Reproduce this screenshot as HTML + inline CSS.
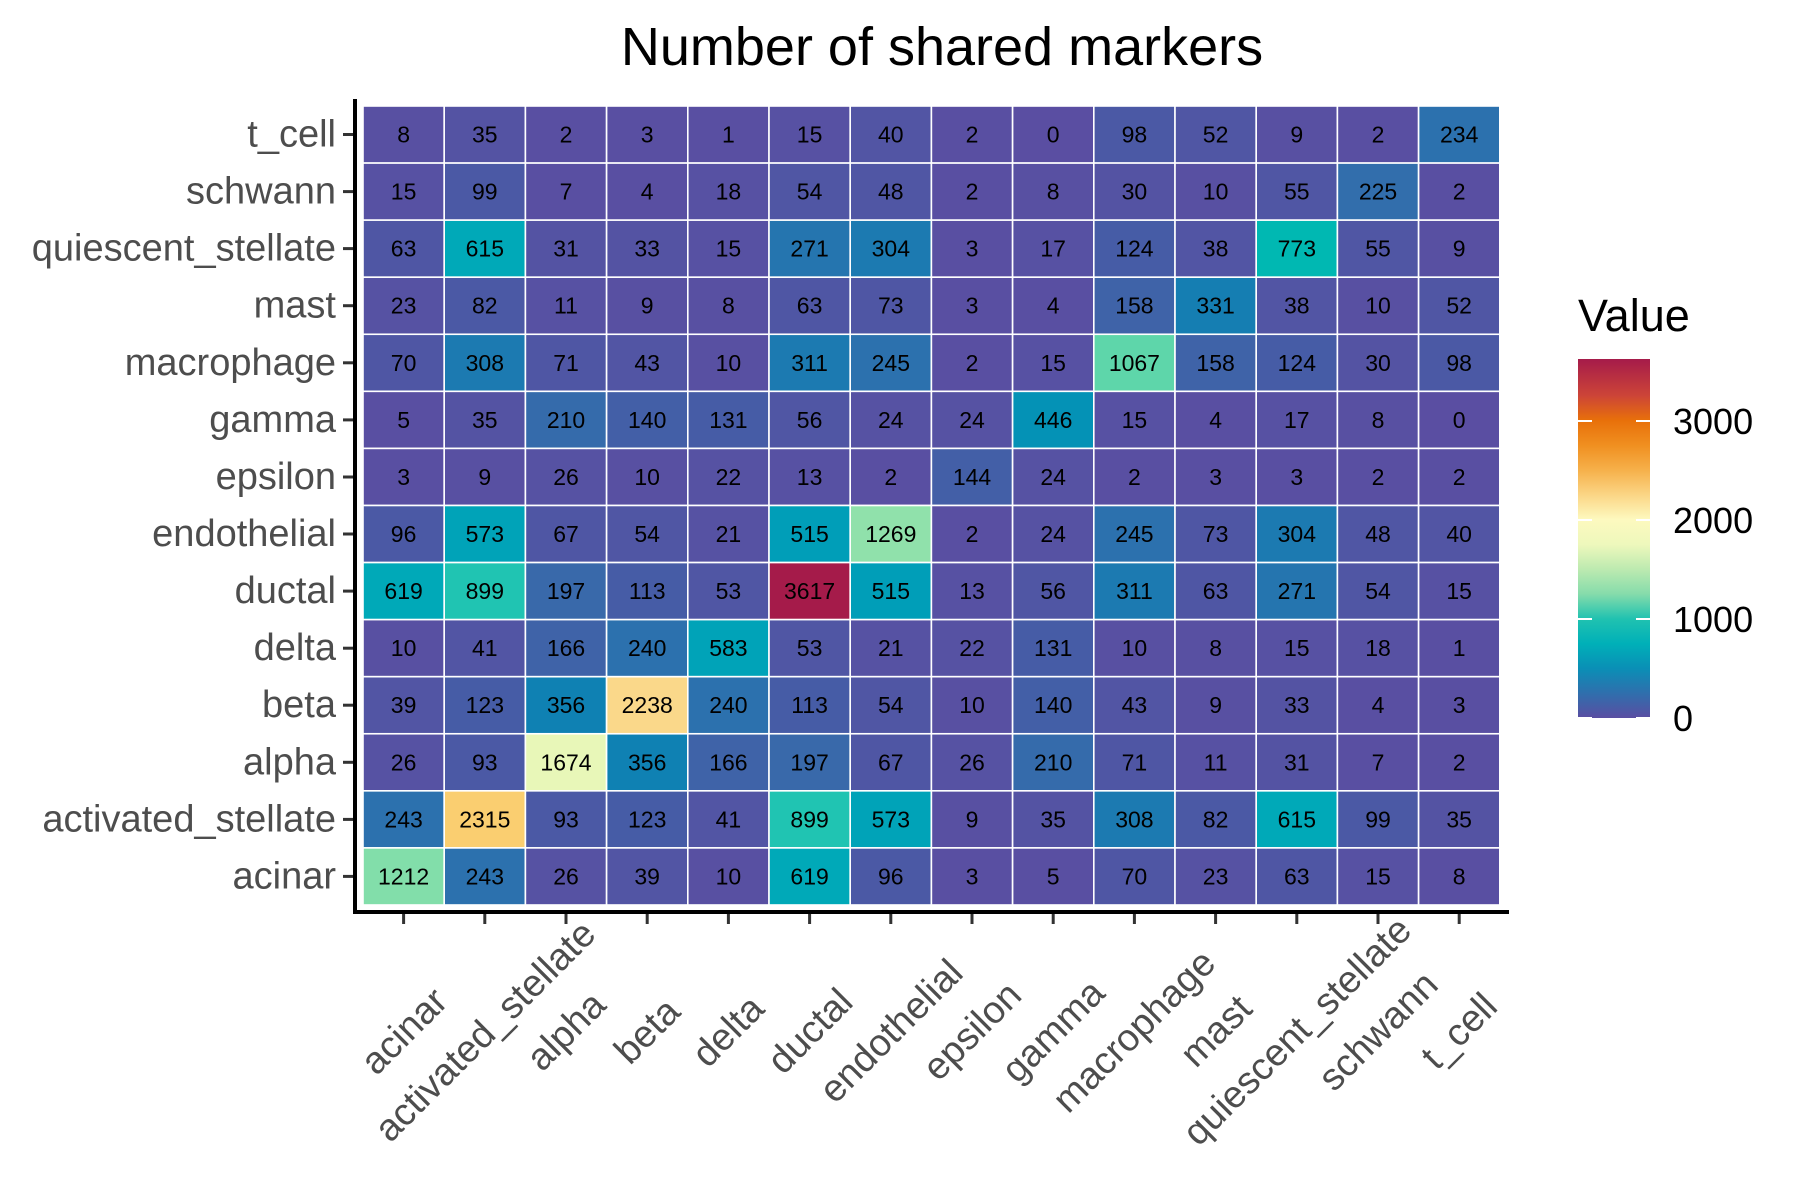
<!DOCTYPE html>
<html><head><meta charset="utf-8"><style>
html,body{margin:0;padding:0;background:#fff;}
svg{display:block;}
.c text{font-family:"Liberation Sans",sans-serif;font-size:23px;fill:#000;text-anchor:middle;}
.yl{font-family:"Liberation Sans",sans-serif;font-size:38px;fill:#4d4d4d;text-anchor:end;}
.xl{font-family:"Liberation Sans",sans-serif;font-size:38px;fill:#4d4d4d;text-anchor:middle;}
.c rect{stroke:#fff;stroke-width:1.6;}
</style></head><body>
<svg width="1800" height="1200" viewBox="0 0 1800 1200" xmlns="http://www.w3.org/2000/svg">
<defs>
<linearGradient id="lg" x1="0" y1="0" x2="0" y2="1">
<stop offset="0" stop-color="#a51b4a"/>
<stop offset="0.101" stop-color="#cc4438"/>
<stop offset="0.171" stop-color="#e8700a"/>
<stop offset="0.24" stop-color="#f08f20"/>
<stop offset="0.309" stop-color="#f6b04a"/>
<stop offset="0.378" stop-color="#fbd585"/>
<stop offset="0.447" stop-color="#fdf9bf"/>
<stop offset="0.516" stop-color="#eef8bc"/>
<stop offset="0.585" stop-color="#bdeab0"/>
<stop offset="0.654" stop-color="#86dcab"/>
<stop offset="0.724" stop-color="#20c2b0"/>
<stop offset="0.793" stop-color="#00b0b8"/>
<stop offset="0.862" stop-color="#0a8fb6"/>
<stop offset="0.931" stop-color="#2f6fad"/>
<stop offset="1" stop-color="#5a4ea2"/>
</linearGradient>
</defs>
<text x="942" y="65" style="font-family:'Liberation Sans',sans-serif;font-size:54px;fill:#000;text-anchor:middle;">Number of shared markers</text>

<g class="c">
<!-- t_cell -->
<g transform="translate(0,106)">
<rect x="363" y="0" width="81.2" height="57.07" fill="#5850a2"/><text x="403.6" y="36.5">8</text>
<rect x="444.2" y="0" width="81.2" height="57.07" fill="#5453a3"/><text x="484.8" y="36.5">35</text>
<rect x="525.4" y="0" width="81.2" height="57.07" fill="#594fa2"/><text x="566" y="36.5">2</text>
<rect x="606.6" y="0" width="81.2" height="57.07" fill="#594fa2"/><text x="647.2" y="36.5">3</text>
<rect x="687.8" y="0" width="81.2" height="57.07" fill="#594fa2"/><text x="728.4" y="36.5">1</text>
<rect x="769" y="0" width="81.2" height="57.07" fill="#5751a3"/><text x="809.6" y="36.5">15</text>
<rect x="850.2" y="0" width="81.2" height="57.07" fill="#5255a4"/><text x="890.8" y="36.5">40</text>
<rect x="931.4" y="0" width="81.2" height="57.07" fill="#594fa2"/><text x="972" y="36.5">2</text>
<rect x="1012.6" y="0" width="81.2" height="57.07" fill="#5a4ea2"/><text x="1053.2" y="36.5">0</text>
<rect x="1093.8" y="0" width="81.2" height="57.07" fill="#4b59a5"/><text x="1134.4" y="36.5">98</text>
<rect x="1175" y="0" width="81.2" height="57.07" fill="#5056a4"/><text x="1215.6" y="36.5">52</text>
<rect x="1256.2" y="0" width="81.2" height="57.07" fill="#5850a2"/><text x="1296.8" y="36.5">9</text>
<rect x="1337.4" y="0" width="81.2" height="57.07" fill="#594fa2"/><text x="1378" y="36.5">2</text>
<rect x="1418.6" y="0" width="81.2" height="57.07" fill="#2c71ae"/><text x="1459.2" y="36.5">234</text>
</g>
<!-- schwann -->
<g transform="translate(0,163.07)">
<rect x="363" y="0" width="81.2" height="57.07" fill="#5751a3"/><text x="403.6" y="36.5">15</text>
<rect x="444.2" y="0" width="81.2" height="57.07" fill="#4b59a5"/><text x="484.8" y="36.5">99</text>
<rect x="525.4" y="0" width="81.2" height="57.07" fill="#594fa2"/><text x="566" y="36.5">7</text>
<rect x="606.6" y="0" width="81.2" height="57.07" fill="#594fa2"/><text x="647.2" y="36.5">4</text>
<rect x="687.8" y="0" width="81.2" height="57.07" fill="#5751a3"/><text x="728.4" y="36.5">18</text>
<rect x="769" y="0" width="81.2" height="57.07" fill="#5056a4"/><text x="809.6" y="36.5">54</text>
<rect x="850.2" y="0" width="81.2" height="57.07" fill="#5056a4"/><text x="890.8" y="36.5">48</text>
<rect x="931.4" y="0" width="81.2" height="57.07" fill="#594fa2"/><text x="972" y="36.5">2</text>
<rect x="1012.6" y="0" width="81.2" height="57.07" fill="#5850a2"/><text x="1053.2" y="36.5">8</text>
<rect x="1093.8" y="0" width="81.2" height="57.07" fill="#5453a3"/><text x="1134.4" y="36.5">30</text>
<rect x="1175" y="0" width="81.2" height="57.07" fill="#5850a2"/><text x="1215.6" y="36.5">10</text>
<rect x="1256.2" y="0" width="81.2" height="57.07" fill="#5056a4"/><text x="1296.8" y="36.5">55</text>
<rect x="1337.4" y="0" width="81.2" height="57.07" fill="#326eac"/><text x="1378" y="36.5">225</text>
<rect x="1418.6" y="0" width="81.2" height="57.07" fill="#594fa2"/><text x="1459.2" y="36.5">2</text>
</g>
<!-- quiescent_stellate -->
<g transform="translate(0,220.14)">
<rect x="363" y="0" width="81.2" height="57.07" fill="#4f56a4"/><text x="403.6" y="36.5">63</text>
<rect x="444.2" y="0" width="81.2" height="57.07" fill="#00a9b8"/><text x="484.8" y="36.5">615</text>
<rect x="525.4" y="0" width="81.2" height="57.07" fill="#5453a3"/><text x="566" y="36.5">31</text>
<rect x="606.6" y="0" width="81.2" height="57.07" fill="#5453a3"/><text x="647.2" y="36.5">33</text>
<rect x="687.8" y="0" width="81.2" height="57.07" fill="#5751a3"/><text x="728.4" y="36.5">15</text>
<rect x="769" y="0" width="81.2" height="57.07" fill="#2575af"/><text x="809.6" y="36.5">271</text>
<rect x="850.2" y="0" width="81.2" height="57.07" fill="#1c7ab1"/><text x="890.8" y="36.5">304</text>
<rect x="931.4" y="0" width="81.2" height="57.07" fill="#594fa2"/><text x="972" y="36.5">3</text>
<rect x="1012.6" y="0" width="81.2" height="57.07" fill="#5751a3"/><text x="1053.2" y="36.5">17</text>
<rect x="1093.8" y="0" width="81.2" height="57.07" fill="#465ca6"/><text x="1134.4" y="36.5">124</text>
<rect x="1175" y="0" width="81.2" height="57.07" fill="#5255a4"/><text x="1215.6" y="36.5">38</text>
<rect x="1256.2" y="0" width="81.2" height="57.07" fill="#00b8b2"/><text x="1296.8" y="36.5">773</text>
<rect x="1337.4" y="0" width="81.2" height="57.07" fill="#5056a4"/><text x="1378" y="36.5">55</text>
<rect x="1418.6" y="0" width="81.2" height="57.07" fill="#5850a2"/><text x="1459.2" y="36.5">9</text>
</g>
<!-- mast -->
<g transform="translate(0,277.21)">
<rect x="363" y="0" width="81.2" height="57.07" fill="#5652a3"/><text x="403.6" y="36.5">23</text>
<rect x="444.2" y="0" width="81.2" height="57.07" fill="#4b59a5"/><text x="484.8" y="36.5">82</text>
<rect x="525.4" y="0" width="81.2" height="57.07" fill="#5751a3"/><text x="566" y="36.5">11</text>
<rect x="606.6" y="0" width="81.2" height="57.07" fill="#5850a2"/><text x="647.2" y="36.5">9</text>
<rect x="687.8" y="0" width="81.2" height="57.07" fill="#5850a2"/><text x="728.4" y="36.5">8</text>
<rect x="769" y="0" width="81.2" height="57.07" fill="#4f56a4"/><text x="809.6" y="36.5">63</text>
<rect x="850.2" y="0" width="81.2" height="57.07" fill="#4f56a4"/><text x="890.8" y="36.5">73</text>
<rect x="931.4" y="0" width="81.2" height="57.07" fill="#594fa2"/><text x="972" y="36.5">3</text>
<rect x="1012.6" y="0" width="81.2" height="57.07" fill="#594fa2"/><text x="1053.2" y="36.5">4</text>
<rect x="1093.8" y="0" width="81.2" height="57.07" fill="#3f63a8"/><text x="1134.4" y="36.5">158</text>
<rect x="1175" y="0" width="81.2" height="57.07" fill="#157eb2"/><text x="1215.6" y="36.5">331</text>
<rect x="1256.2" y="0" width="81.2" height="57.07" fill="#5255a4"/><text x="1296.8" y="36.5">38</text>
<rect x="1337.4" y="0" width="81.2" height="57.07" fill="#5850a2"/><text x="1378" y="36.5">10</text>
<rect x="1418.6" y="0" width="81.2" height="57.07" fill="#5056a4"/><text x="1459.2" y="36.5">52</text>
</g>
<!-- macrophage -->
<g transform="translate(0,334.28)">
<rect x="363" y="0" width="81.2" height="57.07" fill="#4f56a4"/><text x="403.6" y="36.5">70</text>
<rect x="444.2" y="0" width="81.2" height="57.07" fill="#1c7ab1"/><text x="484.8" y="36.5">308</text>
<rect x="525.4" y="0" width="81.2" height="57.07" fill="#4f56a4"/><text x="566" y="36.5">71</text>
<rect x="606.6" y="0" width="81.2" height="57.07" fill="#5255a4"/><text x="647.2" y="36.5">43</text>
<rect x="687.8" y="0" width="81.2" height="57.07" fill="#5850a2"/><text x="728.4" y="36.5">10</text>
<rect x="769" y="0" width="81.2" height="57.07" fill="#1c7ab1"/><text x="809.6" y="36.5">311</text>
<rect x="850.2" y="0" width="81.2" height="57.07" fill="#2c71ae"/><text x="890.8" y="36.5">245</text>
<rect x="931.4" y="0" width="81.2" height="57.07" fill="#594fa2"/><text x="972" y="36.5">2</text>
<rect x="1012.6" y="0" width="81.2" height="57.07" fill="#5751a3"/><text x="1053.2" y="36.5">15</text>
<rect x="1093.8" y="0" width="81.2" height="57.07" fill="#5ed6aa"/><text x="1134.4" y="36.5">1067</text>
<rect x="1175" y="0" width="81.2" height="57.07" fill="#3f63a8"/><text x="1215.6" y="36.5">158</text>
<rect x="1256.2" y="0" width="81.2" height="57.07" fill="#465ca6"/><text x="1296.8" y="36.5">124</text>
<rect x="1337.4" y="0" width="81.2" height="57.07" fill="#5453a3"/><text x="1378" y="36.5">30</text>
<rect x="1418.6" y="0" width="81.2" height="57.07" fill="#4b59a5"/><text x="1459.2" y="36.5">98</text>
</g>
<!-- gamma -->
<g transform="translate(0,391.35)">
<rect x="363" y="0" width="81.2" height="57.07" fill="#594fa2"/><text x="403.6" y="36.5">5</text>
<rect x="444.2" y="0" width="81.2" height="57.07" fill="#5453a3"/><text x="484.8" y="36.5">35</text>
<rect x="525.4" y="0" width="81.2" height="57.07" fill="#356bab"/><text x="566" y="36.5">210</text>
<rect x="606.6" y="0" width="81.2" height="57.07" fill="#435fa7"/><text x="647.2" y="36.5">140</text>
<rect x="687.8" y="0" width="81.2" height="57.07" fill="#465ca6"/><text x="728.4" y="36.5">131</text>
<rect x="769" y="0" width="81.2" height="57.07" fill="#5056a4"/><text x="809.6" y="36.5">56</text>
<rect x="850.2" y="0" width="81.2" height="57.07" fill="#5652a3"/><text x="890.8" y="36.5">24</text>
<rect x="931.4" y="0" width="81.2" height="57.07" fill="#5652a3"/><text x="972" y="36.5">24</text>
<rect x="1012.6" y="0" width="81.2" height="57.07" fill="#0492b6"/><text x="1053.2" y="36.5">446</text>
<rect x="1093.8" y="0" width="81.2" height="57.07" fill="#5751a3"/><text x="1134.4" y="36.5">15</text>
<rect x="1175" y="0" width="81.2" height="57.07" fill="#594fa2"/><text x="1215.6" y="36.5">4</text>
<rect x="1256.2" y="0" width="81.2" height="57.07" fill="#5751a3"/><text x="1296.8" y="36.5">17</text>
<rect x="1337.4" y="0" width="81.2" height="57.07" fill="#5850a2"/><text x="1378" y="36.5">8</text>
<rect x="1418.6" y="0" width="81.2" height="57.07" fill="#5a4ea2"/><text x="1459.2" y="36.5">0</text>
</g>
<!-- epsilon -->
<g transform="translate(0,448.42)">
<rect x="363" y="0" width="81.2" height="57.07" fill="#594fa2"/><text x="403.6" y="36.5">3</text>
<rect x="444.2" y="0" width="81.2" height="57.07" fill="#5850a2"/><text x="484.8" y="36.5">9</text>
<rect x="525.4" y="0" width="81.2" height="57.07" fill="#5652a3"/><text x="566" y="36.5">26</text>
<rect x="606.6" y="0" width="81.2" height="57.07" fill="#5850a2"/><text x="647.2" y="36.5">10</text>
<rect x="687.8" y="0" width="81.2" height="57.07" fill="#5652a3"/><text x="728.4" y="36.5">22</text>
<rect x="769" y="0" width="81.2" height="57.07" fill="#5751a3"/><text x="809.6" y="36.5">13</text>
<rect x="850.2" y="0" width="81.2" height="57.07" fill="#594fa2"/><text x="890.8" y="36.5">2</text>
<rect x="931.4" y="0" width="81.2" height="57.07" fill="#435fa7"/><text x="972" y="36.5">144</text>
<rect x="1012.6" y="0" width="81.2" height="57.07" fill="#5652a3"/><text x="1053.2" y="36.5">24</text>
<rect x="1093.8" y="0" width="81.2" height="57.07" fill="#594fa2"/><text x="1134.4" y="36.5">2</text>
<rect x="1175" y="0" width="81.2" height="57.07" fill="#594fa2"/><text x="1215.6" y="36.5">3</text>
<rect x="1256.2" y="0" width="81.2" height="57.07" fill="#594fa2"/><text x="1296.8" y="36.5">3</text>
<rect x="1337.4" y="0" width="81.2" height="57.07" fill="#594fa2"/><text x="1378" y="36.5">2</text>
<rect x="1418.6" y="0" width="81.2" height="57.07" fill="#594fa2"/><text x="1459.2" y="36.5">2</text>
</g>
<!-- endothelial -->
<g transform="translate(0,505.49)">
<rect x="363" y="0" width="81.2" height="57.07" fill="#4b59a5"/><text x="403.6" y="36.5">96</text>
<rect x="444.2" y="0" width="81.2" height="57.07" fill="#00a3b8"/><text x="484.8" y="36.5">573</text>
<rect x="525.4" y="0" width="81.2" height="57.07" fill="#4f56a4"/><text x="566" y="36.5">67</text>
<rect x="606.6" y="0" width="81.2" height="57.07" fill="#5056a4"/><text x="647.2" y="36.5">54</text>
<rect x="687.8" y="0" width="81.2" height="57.07" fill="#5652a3"/><text x="728.4" y="36.5">21</text>
<rect x="769" y="0" width="81.2" height="57.07" fill="#009eb8"/><text x="809.6" y="36.5">515</text>
<rect x="850.2" y="0" width="81.2" height="57.07" fill="#90e1ab"/><text x="890.8" y="36.5">1269</text>
<rect x="931.4" y="0" width="81.2" height="57.07" fill="#594fa2"/><text x="972" y="36.5">2</text>
<rect x="1012.6" y="0" width="81.2" height="57.07" fill="#5652a3"/><text x="1053.2" y="36.5">24</text>
<rect x="1093.8" y="0" width="81.2" height="57.07" fill="#2c71ae"/><text x="1134.4" y="36.5">245</text>
<rect x="1175" y="0" width="81.2" height="57.07" fill="#4f56a4"/><text x="1215.6" y="36.5">73</text>
<rect x="1256.2" y="0" width="81.2" height="57.07" fill="#1c7ab1"/><text x="1296.8" y="36.5">304</text>
<rect x="1337.4" y="0" width="81.2" height="57.07" fill="#5056a4"/><text x="1378" y="36.5">48</text>
<rect x="1418.6" y="0" width="81.2" height="57.07" fill="#5255a4"/><text x="1459.2" y="36.5">40</text>
</g>
<!-- ductal -->
<g transform="translate(0,562.56)">
<rect x="363" y="0" width="81.2" height="57.07" fill="#00a9b8"/><text x="403.6" y="36.5">619</text>
<rect x="444.2" y="0" width="81.2" height="57.07" fill="#20c4b2"/><text x="484.8" y="36.5">899</text>
<rect x="525.4" y="0" width="81.2" height="57.07" fill="#3969aa"/><text x="566" y="36.5">197</text>
<rect x="606.6" y="0" width="81.2" height="57.07" fill="#465ca6"/><text x="647.2" y="36.5">113</text>
<rect x="687.8" y="0" width="81.2" height="57.07" fill="#5056a4"/><text x="728.4" y="36.5">53</text>
<rect x="769" y="0" width="81.2" height="57.07" fill="#a51b4a"/><text x="809.6" y="36.5">3617</text>
<rect x="850.2" y="0" width="81.2" height="57.07" fill="#009eb8"/><text x="890.8" y="36.5">515</text>
<rect x="931.4" y="0" width="81.2" height="57.07" fill="#5751a3"/><text x="972" y="36.5">13</text>
<rect x="1012.6" y="0" width="81.2" height="57.07" fill="#5056a4"/><text x="1053.2" y="36.5">56</text>
<rect x="1093.8" y="0" width="81.2" height="57.07" fill="#1c7ab1"/><text x="1134.4" y="36.5">311</text>
<rect x="1175" y="0" width="81.2" height="57.07" fill="#4f56a4"/><text x="1215.6" y="36.5">63</text>
<rect x="1256.2" y="0" width="81.2" height="57.07" fill="#2575af"/><text x="1296.8" y="36.5">271</text>
<rect x="1337.4" y="0" width="81.2" height="57.07" fill="#5056a4"/><text x="1378" y="36.5">54</text>
<rect x="1418.6" y="0" width="81.2" height="57.07" fill="#5751a3"/><text x="1459.2" y="36.5">15</text>
</g>
<!-- delta -->
<g transform="translate(0,619.63)">
<rect x="363" y="0" width="81.2" height="57.07" fill="#5850a2"/><text x="403.6" y="36.5">10</text>
<rect x="444.2" y="0" width="81.2" height="57.07" fill="#5255a4"/><text x="484.8" y="36.5">41</text>
<rect x="525.4" y="0" width="81.2" height="57.07" fill="#3f63a8"/><text x="566" y="36.5">166</text>
<rect x="606.6" y="0" width="81.2" height="57.07" fill="#2c71ae"/><text x="647.2" y="36.5">240</text>
<rect x="687.8" y="0" width="81.2" height="57.07" fill="#00a3b8"/><text x="728.4" y="36.5">583</text>
<rect x="769" y="0" width="81.2" height="57.07" fill="#5056a4"/><text x="809.6" y="36.5">53</text>
<rect x="850.2" y="0" width="81.2" height="57.07" fill="#5652a3"/><text x="890.8" y="36.5">21</text>
<rect x="931.4" y="0" width="81.2" height="57.07" fill="#5652a3"/><text x="972" y="36.5">22</text>
<rect x="1012.6" y="0" width="81.2" height="57.07" fill="#465ca6"/><text x="1053.2" y="36.5">131</text>
<rect x="1093.8" y="0" width="81.2" height="57.07" fill="#5850a2"/><text x="1134.4" y="36.5">10</text>
<rect x="1175" y="0" width="81.2" height="57.07" fill="#5850a2"/><text x="1215.6" y="36.5">8</text>
<rect x="1256.2" y="0" width="81.2" height="57.07" fill="#5751a3"/><text x="1296.8" y="36.5">15</text>
<rect x="1337.4" y="0" width="81.2" height="57.07" fill="#5751a3"/><text x="1378" y="36.5">18</text>
<rect x="1418.6" y="0" width="81.2" height="57.07" fill="#594fa2"/><text x="1459.2" y="36.5">1</text>
</g>
<!-- beta -->
<g transform="translate(0,676.7)">
<rect x="363" y="0" width="81.2" height="57.07" fill="#5255a4"/><text x="403.6" y="36.5">39</text>
<rect x="444.2" y="0" width="81.2" height="57.07" fill="#465ca6"/><text x="484.8" y="36.5">123</text>
<rect x="525.4" y="0" width="81.2" height="57.07" fill="#0f81b3"/><text x="566" y="36.5">356</text>
<rect x="606.6" y="0" width="81.2" height="57.07" fill="#fad88a"/><text x="647.2" y="36.5">2238</text>
<rect x="687.8" y="0" width="81.2" height="57.07" fill="#2c71ae"/><text x="728.4" y="36.5">240</text>
<rect x="769" y="0" width="81.2" height="57.07" fill="#465ca6"/><text x="809.6" y="36.5">113</text>
<rect x="850.2" y="0" width="81.2" height="57.07" fill="#5056a4"/><text x="890.8" y="36.5">54</text>
<rect x="931.4" y="0" width="81.2" height="57.07" fill="#5850a2"/><text x="972" y="36.5">10</text>
<rect x="1012.6" y="0" width="81.2" height="57.07" fill="#435fa7"/><text x="1053.2" y="36.5">140</text>
<rect x="1093.8" y="0" width="81.2" height="57.07" fill="#5255a4"/><text x="1134.4" y="36.5">43</text>
<rect x="1175" y="0" width="81.2" height="57.07" fill="#5850a2"/><text x="1215.6" y="36.5">9</text>
<rect x="1256.2" y="0" width="81.2" height="57.07" fill="#5453a3"/><text x="1296.8" y="36.5">33</text>
<rect x="1337.4" y="0" width="81.2" height="57.07" fill="#594fa2"/><text x="1378" y="36.5">4</text>
<rect x="1418.6" y="0" width="81.2" height="57.07" fill="#594fa2"/><text x="1459.2" y="36.5">3</text>
</g>
<!-- alpha -->
<g transform="translate(0,733.77)">
<rect x="363" y="0" width="81.2" height="57.07" fill="#5652a3"/><text x="403.6" y="36.5">26</text>
<rect x="444.2" y="0" width="81.2" height="57.07" fill="#4b59a5"/><text x="484.8" y="36.5">93</text>
<rect x="525.4" y="0" width="81.2" height="57.07" fill="#e8f7b8"/><text x="566" y="36.5">1674</text>
<rect x="606.6" y="0" width="81.2" height="57.07" fill="#0f81b3"/><text x="647.2" y="36.5">356</text>
<rect x="687.8" y="0" width="81.2" height="57.07" fill="#3f63a8"/><text x="728.4" y="36.5">166</text>
<rect x="769" y="0" width="81.2" height="57.07" fill="#3969aa"/><text x="809.6" y="36.5">197</text>
<rect x="850.2" y="0" width="81.2" height="57.07" fill="#4f56a4"/><text x="890.8" y="36.5">67</text>
<rect x="931.4" y="0" width="81.2" height="57.07" fill="#5652a3"/><text x="972" y="36.5">26</text>
<rect x="1012.6" y="0" width="81.2" height="57.07" fill="#356bab"/><text x="1053.2" y="36.5">210</text>
<rect x="1093.8" y="0" width="81.2" height="57.07" fill="#4f56a4"/><text x="1134.4" y="36.5">71</text>
<rect x="1175" y="0" width="81.2" height="57.07" fill="#5751a3"/><text x="1215.6" y="36.5">11</text>
<rect x="1256.2" y="0" width="81.2" height="57.07" fill="#5453a3"/><text x="1296.8" y="36.5">31</text>
<rect x="1337.4" y="0" width="81.2" height="57.07" fill="#594fa2"/><text x="1378" y="36.5">7</text>
<rect x="1418.6" y="0" width="81.2" height="57.07" fill="#594fa2"/><text x="1459.2" y="36.5">2</text>
</g>
<!-- activated_stellate -->
<g transform="translate(0,790.84)">
<rect x="363" y="0" width="81.2" height="57.07" fill="#2c71ae"/><text x="403.6" y="36.5">243</text>
<rect x="444.2" y="0" width="81.2" height="57.07" fill="#face70"/><text x="484.8" y="36.5">2315</text>
<rect x="525.4" y="0" width="81.2" height="57.07" fill="#4b59a5"/><text x="566" y="36.5">93</text>
<rect x="606.6" y="0" width="81.2" height="57.07" fill="#465ca6"/><text x="647.2" y="36.5">123</text>
<rect x="687.8" y="0" width="81.2" height="57.07" fill="#5255a4"/><text x="728.4" y="36.5">41</text>
<rect x="769" y="0" width="81.2" height="57.07" fill="#20c4b2"/><text x="809.6" y="36.5">899</text>
<rect x="850.2" y="0" width="81.2" height="57.07" fill="#00a3b8"/><text x="890.8" y="36.5">573</text>
<rect x="931.4" y="0" width="81.2" height="57.07" fill="#5850a2"/><text x="972" y="36.5">9</text>
<rect x="1012.6" y="0" width="81.2" height="57.07" fill="#5453a3"/><text x="1053.2" y="36.5">35</text>
<rect x="1093.8" y="0" width="81.2" height="57.07" fill="#1c7ab1"/><text x="1134.4" y="36.5">308</text>
<rect x="1175" y="0" width="81.2" height="57.07" fill="#4b59a5"/><text x="1215.6" y="36.5">82</text>
<rect x="1256.2" y="0" width="81.2" height="57.07" fill="#00a9b8"/><text x="1296.8" y="36.5">615</text>
<rect x="1337.4" y="0" width="81.2" height="57.07" fill="#4b59a5"/><text x="1378" y="36.5">99</text>
<rect x="1418.6" y="0" width="81.2" height="57.07" fill="#5453a3"/><text x="1459.2" y="36.5">35</text>
</g>
<!-- acinar -->
<g transform="translate(0,847.91)">
<rect x="363" y="0" width="81.2" height="57.07" fill="#82deaa"/><text x="403.6" y="36.5">1212</text>
<rect x="444.2" y="0" width="81.2" height="57.07" fill="#2c71ae"/><text x="484.8" y="36.5">243</text>
<rect x="525.4" y="0" width="81.2" height="57.07" fill="#5652a3"/><text x="566" y="36.5">26</text>
<rect x="606.6" y="0" width="81.2" height="57.07" fill="#5255a4"/><text x="647.2" y="36.5">39</text>
<rect x="687.8" y="0" width="81.2" height="57.07" fill="#5850a2"/><text x="728.4" y="36.5">10</text>
<rect x="769" y="0" width="81.2" height="57.07" fill="#00a9b8"/><text x="809.6" y="36.5">619</text>
<rect x="850.2" y="0" width="81.2" height="57.07" fill="#4b59a5"/><text x="890.8" y="36.5">96</text>
<rect x="931.4" y="0" width="81.2" height="57.07" fill="#594fa2"/><text x="972" y="36.5">3</text>
<rect x="1012.6" y="0" width="81.2" height="57.07" fill="#594fa2"/><text x="1053.2" y="36.5">5</text>
<rect x="1093.8" y="0" width="81.2" height="57.07" fill="#4f56a4"/><text x="1134.4" y="36.5">70</text>
<rect x="1175" y="0" width="81.2" height="57.07" fill="#5652a3"/><text x="1215.6" y="36.5">23</text>
<rect x="1256.2" y="0" width="81.2" height="57.07" fill="#4f56a4"/><text x="1296.8" y="36.5">63</text>
<rect x="1337.4" y="0" width="81.2" height="57.07" fill="#5751a3"/><text x="1378" y="36.5">15</text>
<rect x="1418.6" y="0" width="81.2" height="57.07" fill="#594fa2"/><text x="1459.2" y="36.5">8</text>
</g>
</g>

<!-- axes -->
<line x1="355" y1="99" x2="355" y2="914" stroke="#000" stroke-width="4"/>
<line x1="353" y1="912" x2="1509" y2="912" stroke="#000" stroke-width="4"/>
<g stroke="#333" stroke-width="3">
<line x1="343" y1="134.5" x2="353" y2="134.5"/><line x1="343" y1="191.6" x2="353" y2="191.6"/>
<line x1="343" y1="248.6" x2="353" y2="248.6"/><line x1="343" y1="305.7" x2="353" y2="305.7"/>
<line x1="343" y1="362.8" x2="353" y2="362.8"/><line x1="343" y1="419.9" x2="353" y2="419.9"/>
<line x1="343" y1="477" x2="353" y2="477"/><line x1="343" y1="534" x2="353" y2="534"/>
<line x1="343" y1="591.1" x2="353" y2="591.1"/><line x1="343" y1="648.2" x2="353" y2="648.2"/>
<line x1="343" y1="705.2" x2="353" y2="705.2"/><line x1="343" y1="762.3" x2="353" y2="762.3"/>
<line x1="343" y1="819.4" x2="353" y2="819.4"/><line x1="343" y1="876.4" x2="353" y2="876.4"/>
<line x1="403.6" y1="914" x2="403.6" y2="924"/><line x1="484.8" y1="914" x2="484.8" y2="924"/>
<line x1="566" y1="914" x2="566" y2="924"/><line x1="647.2" y1="914" x2="647.2" y2="924"/>
<line x1="728.4" y1="914" x2="728.4" y2="924"/><line x1="809.6" y1="914" x2="809.6" y2="924"/>
<line x1="890.8" y1="914" x2="890.8" y2="924"/><line x1="972" y1="914" x2="972" y2="924"/>
<line x1="1053.2" y1="914" x2="1053.2" y2="924"/><line x1="1134.4" y1="914" x2="1134.4" y2="924"/>
<line x1="1215.6" y1="914" x2="1215.6" y2="924"/><line x1="1296.8" y1="914" x2="1296.8" y2="924"/>
<line x1="1378" y1="914" x2="1378" y2="924"/><line x1="1459.2" y1="914" x2="1459.2" y2="924"/>
</g>

<!-- y labels -->
<text class="yl" x="336" y="146.5">t_cell</text>
<text class="yl" x="336" y="203.6">schwann</text>
<text class="yl" x="336" y="260.6">quiescent_stellate</text>
<text class="yl" x="336" y="317.7">mast</text>
<text class="yl" x="336" y="374.8">macrophage</text>
<text class="yl" x="336" y="431.9">gamma</text>
<text class="yl" x="336" y="489">epsilon</text>
<text class="yl" x="336" y="546">endothelial</text>
<text class="yl" x="336" y="603.1">ductal</text>
<text class="yl" x="336" y="660.2">delta</text>
<text class="yl" x="336" y="717.2">beta</text>
<text class="yl" x="336" y="774.3">alpha</text>
<text class="yl" x="336" y="831.4">activated_stellate</text>
<text class="yl" x="336" y="888.4">acinar</text>

<!-- x labels -->
<text class="xl" transform="translate(413,1040) rotate(-45)">acinar</text>
<text class="xl" transform="translate(494,1040) rotate(-45)">activated_stellate</text>
<text class="xl" transform="translate(575,1040) rotate(-45)">alpha</text>
<text class="xl" transform="translate(656,1040) rotate(-45)">beta</text>
<text class="xl" transform="translate(737,1040) rotate(-45)">delta</text>
<text class="xl" transform="translate(819,1040) rotate(-45)">ductal</text>
<text class="xl" transform="translate(900,1040) rotate(-45)">endothelial</text>
<text class="xl" transform="translate(981,1040) rotate(-45)">epsilon</text>
<text class="xl" transform="translate(1062,1040) rotate(-45)">gamma</text>
<text class="xl" transform="translate(1143,1040) rotate(-45)">macrophage</text>
<text class="xl" transform="translate(1225,1040) rotate(-45)">mast</text>
<text class="xl" transform="translate(1306,1040) rotate(-45)">quiescent_stellate</text>
<text class="xl" transform="translate(1387,1040) rotate(-45)">schwann</text>
<text class="xl" transform="translate(1468,1040) rotate(-45)">t_cell</text>

<!-- legend -->
<text x="1578" y="331" style="font-family:'Liberation Sans',sans-serif;font-size:45px;fill:#000;">Value</text>
<rect x="1578" y="359" width="72" height="359" fill="url(#lg)"/>
<g stroke="#fff" stroke-width="2">
<line x1="1578" y1="421" x2="1592" y2="421"/><line x1="1636" y1="421" x2="1650" y2="421"/>
<line x1="1578" y1="520" x2="1592" y2="520"/><line x1="1636" y1="520" x2="1650" y2="520"/>
<line x1="1578" y1="619" x2="1592" y2="619"/><line x1="1636" y1="619" x2="1650" y2="619"/>
<line x1="1578" y1="718" x2="1592" y2="718"/><line x1="1636" y1="718" x2="1650" y2="718"/>
</g>
<g style="font-family:'Liberation Sans',sans-serif;font-size:36px;fill:#000;">
<text x="1673" y="434">3000</text>
<text x="1673" y="533">2000</text>
<text x="1673" y="632">1000</text>
<text x="1673" y="731">0</text>
</g>
</svg>
</body></html>
